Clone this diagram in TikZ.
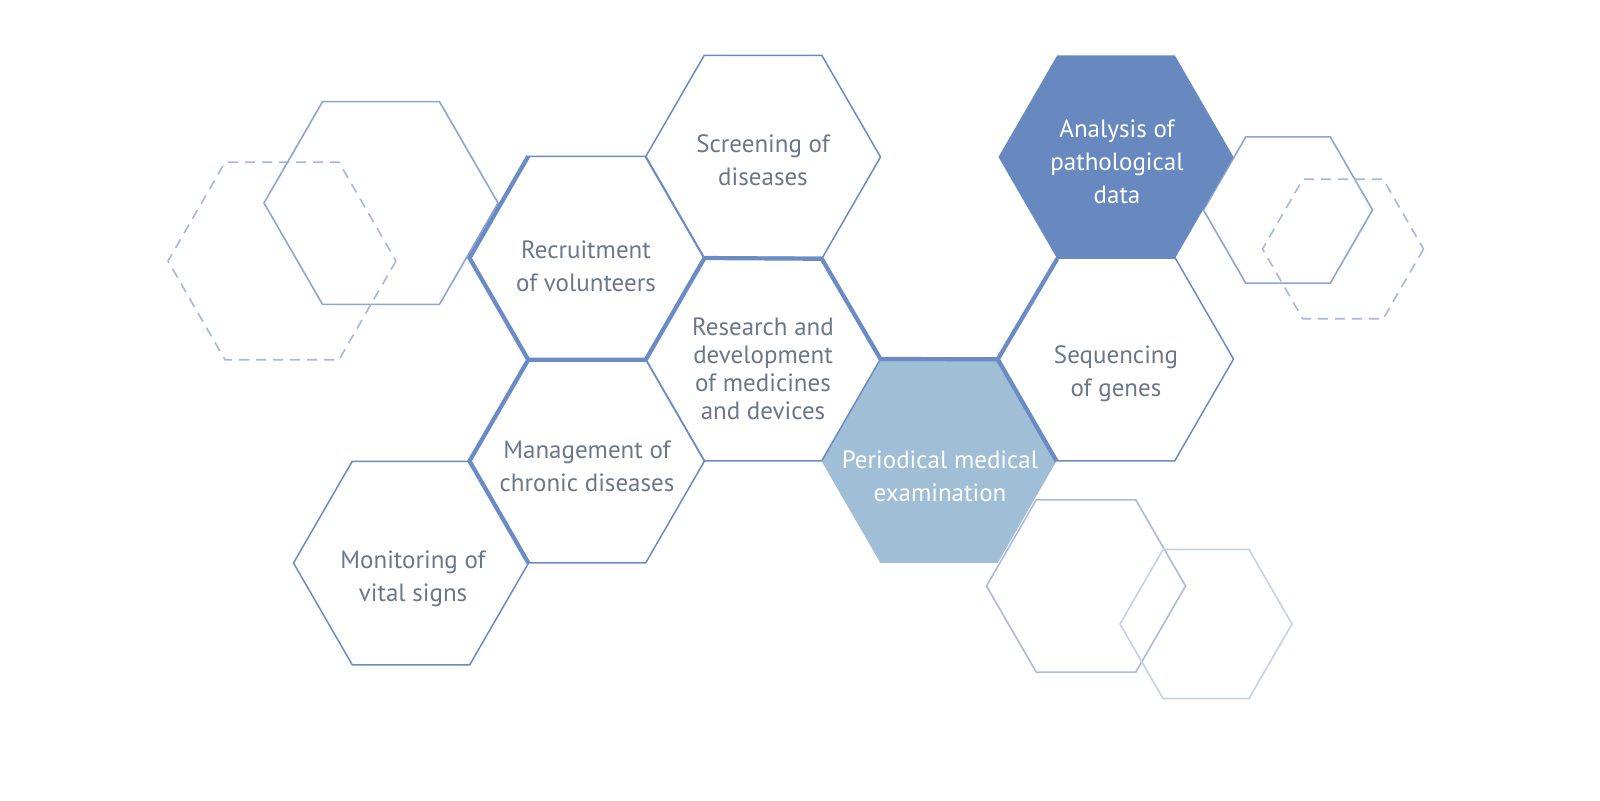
\documentclass[tikz,border=0pt]{standalone}
\usepackage{fontspec}
\setmainfont{PT Sans}
\usetikzlibrary{calc}
\definecolor{hexline}{HTML}{6A8BC3}
\definecolor{hexdark}{HTML}{6889C0}
\definecolor{hexpale}{HTML}{A0BED5}
\definecolor{hextext}{HTML}{6C778B}
\definecolor{decoA}{HTML}{8EA5D1}
\definecolor{decoB}{HTML}{A6B8DD}
\definecolor{decoC}{HTML}{ABBADC}
\definecolor{decoD}{HTML}{C6D0E8}
\tikzset{
  hexedge/.style={draw=hexline, line width=0.75pt, line join=miter},
  hexbold/.style={draw=hexline, line width=2.1pt, line join=miter},
  decoedge/.style={line width=0.8pt, line join=miter},
  decodash/.style={decoedge, dash pattern=on 5pt off 3.5pt},
  lbl/.style={text=hextext, align=center, inner sep=0pt, font=\fontsize{12.5}{16.5}\selectfont},
  lblwhite/.style={lbl, text=white}
}

\begin{document}
\begin{tikzpicture}[x=0.5pt,y=-0.5pt]
\fill[white] (0,0) rectangle (1600,800);
\useasboundingbox (0,0) rectangle (1600,800);

% corners of the honeycomb cells
\foreach \nm/\cx/\cy in {scr/763/157, rec/587/258, res/763/359, man/587/461, mon/411/563, per/939/461, seq/1116/359, ana/1116/157}
  \foreach \k in {0,...,5}
    \coordinate (\nm-\k) at ([shift={(\k*60:117.5)}]\cx,\cy);

% faint cells behind
\draw[decodash, draw=decoB] ([shift={(0:114)}]282,261) \foreach \k in {1,...,5} {-- ([shift={(\k*60:114)}]282,261)} -- cycle;
\draw[decoedge, draw=decoA] ([shift={(0:117)}]381,203) \foreach \k in {1,...,5} {-- ([shift={(\k*60:117)}]381,203)} -- cycle;
\draw[decoedge, draw=decoA] ([shift={(0:84.5)}]1288,210) \foreach \k in {1,...,5} {-- ([shift={(\k*60:84.5)}]1288,210)} -- cycle;
\draw[decodash, draw=decoB] ([shift={(0:80.5)}]1343,249) \foreach \k in {1,...,5} {-- ([shift={(\k*60:80.5)}]1343,249)} -- cycle;
\draw[decoedge, draw=decoC] ([shift={(0:99.5)}]1086,586) \foreach \k in {1,...,5} {-- ([shift={(\k*60:99.5)}]1086,586)} -- cycle;
\draw[decoedge, draw=decoD] ([shift={(0:86)}]1206,624) \foreach \k in {1,...,5} {-- ([shift={(\k*60:86)}]1206,624)} -- cycle;

% filled cells
\fill[hexdark] (ana-0) -- (ana-1) -- (ana-2) -- (ana-3) -- (ana-4) -- (ana-5) -- cycle;
\fill[hexpale] (per-0) -- (per-1) -- (per-2) -- (per-3) -- (per-4) -- (per-5) -- cycle;

% open cells
\foreach \nm in {scr,rec,res,man,mon,seq}
  \draw[hexedge] (\nm-0) -- (\nm-1) -- (\nm-2) -- (\nm-3) -- (\nm-4) -- (\nm-5) -- cycle;

% heavy border
\draw[hexbold] (rec-4) -- (rec-3) -- (rec-2) -- (man-3) -- (man-2);
\draw[hexbold] (rec-2) -- (rec-1) -- (rec-0) -- (scr-1) -- (res-0) -- (per-5) -- (per-0);
\draw[hexbold] (per-5) -- (ana-2);

% labels
\node[lbl] (screening) at (763,160) {Screening of\\diseases};
\node[lbl] (recruitment) at (586,266) {Recruitment\\of volunteers};
\node[lbl, font=\fontsize{12.5}{14}\selectfont] (research) at (763,369) {Research and\\development\\of medicines\\and devices};
\node[lbl] (management) at (587,466) {Management of\\chronic diseases};
\node[lbl] (monitoring) at (413,579) {Monitoring of\\vital signs};
\node[lblwhite] (periodical) at (940,476) {Periodical medical\\examination};
\node[lbl] (sequencing) at (1116,374) {Sequencing\\of genes};
\node[lblwhite] (analysis) at (1117,162) {Analysis of\\pathological\\data};
\end{tikzpicture}
\end{document}
